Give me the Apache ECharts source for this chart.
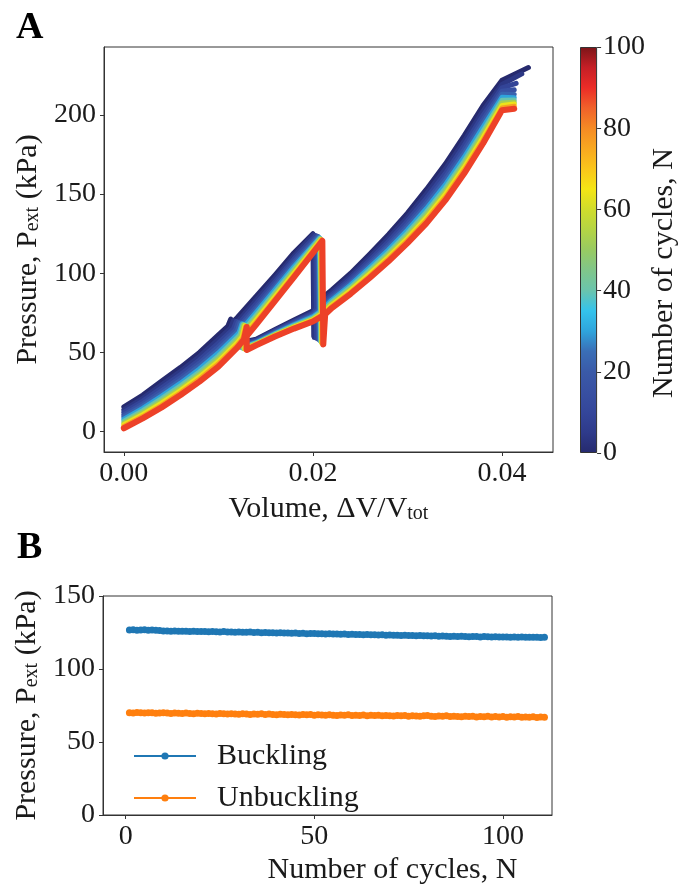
<!DOCTYPE html>
<html><head><meta charset="utf-8">
<script src="https://cdn.jsdelivr.net/npm/echarts@6/dist/echarts.min.js"></script>
<style>html,body{margin:0;padding:0;background:#fff}#c{width:680px;height:886px}</style>
</head><body><div id="c"></div>
<script>
// ---------------- Panel A data ----------------
const cycleIds = [0, 4, 9, 15, 22, 30, 40, 52, 64, 76, 88];
const xLoad = [0, 0.002, 0.004, 0.006, 0.008, 0.010, 0.012, 0.014, 0.016, 0.018];
const yLoad = [
  [15.5, 23, 31.8, 40.5, 50, 61, 72, 85.5, 99, 113],
  [13.6, 20.9, 29.5, 38.1, 47.4, 58.2, 69.3, 83.0, 96.7, 110.8],
  [12.0, 19.2, 27.5, 36.0, 45.2, 55.8, 67.1, 80.8, 94.7, 109.0],
  [10.5, 17.5, 25.7, 34.0, 43.2, 53.6, 65.0, 78.8, 92.9, 107.3],
  [9.2, 16.0, 24.0, 32.3, 41.3, 51.6, 63.1, 77.0, 91.3, 105.7],
  [7.8, 14.6, 22.3, 30.5, 39.5, 49.6, 61.2, 75.2, 89.6, 104.2],
  [6.5, 13.1, 20.7, 28.8, 37.6, 47.6, 59.3, 73.4, 88.0, 102.6],
  [5.2, 11.8, 19.2, 27.2, 35.9, 45.8, 57.6, 71.8, 86.5, 101.2],
  [4.2, 10.6, 17.9, 25.8, 34.5, 44.2, 56.0, 70.4, 85.1, 100.0],
  [3.1, 9.4, 16.5, 24.4, 33.0, 42.6, 54.5, 68.9, 83.8, 98.7],
  [2, 8.2, 15.2, 23, 31.5, 41, 53, 67.5, 82.5, 97.5]
];
const xPeak   = [0.0200, 0.02005, 0.0203, 0.0205, 0.0206, 0.0207, 0.02075, 0.0208, 0.02085, 0.0209, 0.0210];
const yPeak   = [125, 124.4, 123.8, 123.3, 122.9, 122.4, 122.0, 121.6, 121.2, 120.9, 120.5];
const xSnap   = [0.0201, 0.02015, 0.0204, 0.0206, 0.0207, 0.0208, 0.02085, 0.0209, 0.02095, 0.0210, 0.0211];
const ySnap   = [60, 59.3, 58.7, 58.2, 57.7, 57.2, 56.7, 56.2, 55.8, 55.4, 55];
const xRejoin = [0.0203, 0.02035, 0.0206, 0.0208, 0.0209, 0.0210, 0.02105, 0.0211, 0.02115, 0.0212, 0.0213];
const yRejoin = [81, 80.0, 79.2, 78.4, 77.7, 77.0, 76.3, 75.7, 75.1, 74.6, 74];
const xUpper = [0.022, 0.024, 0.026, 0.028, 0.030, 0.032, 0.034, 0.036, 0.038, 0.040];
const yUpper = [
  [89.5, 100, 112, 124.5, 138, 153, 169, 187, 206, 222],
  [87.9, 98.2, 109.9, 122.1, 135.3, 150.0, 165.8, 183.6, 202.6, 219.3],
  [86.5, 96.6, 108.1, 120.1, 133.1, 147.4, 163.0, 180.8, 199.8, 217.1],
  [85.2, 95.2, 106.5, 118.2, 131.0, 145.0, 160.5, 178.1, 197.1, 215.0],
  [84.1, 93.9, 105.0, 116.5, 129.1, 142.9, 158.2, 175.7, 194.7, 213.1],
  [83.0, 92.6, 103.5, 114.8, 127.2, 140.8, 155.9, 173.3, 192.3, 211.2],
  [81.8, 91.3, 102.0, 113.1, 125.3, 138.6, 153.6, 170.9, 189.9, 209.3],
  [80.8, 90.1, 100.6, 111.6, 123.6, 136.7, 151.5, 168.8, 187.8, 207.6],
  [79.8, 89.1, 99.4, 110.2, 122.0, 134.9, 149.7, 166.8, 185.8, 206.0],
  [78.9, 88.0, 98.2, 108.9, 120.5, 133.2, 147.8, 164.9, 183.9, 204.5],
  [78, 87, 97, 107.5, 119, 131.5, 146, 163, 182, 203]
];
const xEnd = [0.0428, 0.0421, 0.0415, 0.0413, 0.0413, 0.0413, 0.0413, 0.0413, 0.0413, 0.0413, 0.0413];
const yEnd = [230, 226, 220, 216, 213, 211, 209.5, 208, 207, 205.5, 204];
const xBranch = [0.020, 0.018, 0.016, 0.014];
const yBranch = [
  [76.3, 70.5, 64.5, 58.3],
  [75.3, 69.7, 63.9, 57.8],
  [74.5, 69.1, 63.3, 57.3],
  [73.8, 68.5, 62.8, 56.9],
  [73.1, 67.9, 62.4, 56.5],
  [72.4, 67.4, 61.9, 56.1],
  [71.7, 66.8, 61.5, 55.8],
  [71.1, 66.3, 61.1, 55.4],
  [70.6, 65.9, 60.7, 55.1],
  [70.0, 65.4, 60.4, 54.8],
  [69.5, 65, 60, 54.5]
];
const xUnb     = [0.0113, 0.0116, 0.0119, 0.0121, 0.0123, 0.0125, 0.0126, 0.0127, 0.0128, 0.0129, 0.0130];
const yUnbLow  = [55, 54.6, 54.2, 53.8, 53.4, 53.0, 52.7, 52.4, 52.1, 51.8, 51.5];
const yUnbHigh = [71, 70.2, 69.6, 69, 68.5, 68, 67.6, 67.2, 66.8, 66.4, 66];
const xSettle  = [0.0110, 0.0113, 0.0116, 0.0118, 0.0120, 0.0122, 0.0123, 0.0124, 0.0125, 0.0126, 0.0127];
const ySettle  = [66.5, 65.4, 64.8, 63.9, 63.1, 62.6, 61.4, 60.4, 59.6, 58.8, 58.1];

const ticksAx = [0, 0.02, 0.04];
const ticksAy = [0, 50, 100, 150, 200];
const colorbarTicks = [0, 20, 40, 60, 80, 100];

// ---------------- Panel B data ----------------
const cycleN = [1,2,3,4,5,6,7,8,9,10,11,12,13,14,15,16,17,18,19,20,21,22,23,24,25,26,27,28,29,30,
31,32,33,34,35,36,37,38,39,40,41,42,43,44,45,46,47,48,49,50,51,52,53,54,55,56,57,58,59,60,
61,62,63,64,65,66,67,68,69,70,71,72,73,74,75,76,77,78,79,80,81,82,83,84,85,86,87,88,89,90,
91,92,93,94,95,96,97,98,99,100,101,102,103,104,105,106,107,108,109,110,111];
const buckling = [126.7,126.8,126.6,126.7,126.8,126.6,126.7,126.5,126.3,126.1,
126.0,125.9,126.0,125.8,125.9,125.8,125.7,125.8,125.6,125.7,
125.6,125.5,125.7,125.5,125.4,125.6,125.3,125.4,125.2,125.3,
125.2,125.1,125.3,125.0,125.1,124.9,125.0,124.8,124.9,124.7,
124.8,124.6,124.7,124.5,124.6,124.4,124.5,124.2,124.4,124.3,
124.1,124.2,124.0,124.1,123.9,124.0,123.8,123.9,123.7,123.8,
123.6,123.7,123.5,123.6,123.4,123.5,123.3,123.4,123.2,123.3,
123.1,123.2,123.0,123.1,122.9,123.0,122.8,122.9,122.7,122.8,
122.6,122.7,122.5,122.6,122.4,122.3,122.5,122.2,122.4,122.3,
122.1,122.3,122.2,122.0,122.2,122.1,121.9,122.1,122.0,121.9,
122.0,121.8,121.9,121.8,121.9,121.7,121.8,121.7,121.8,121.6,121.7];
const unbuckling = [70.1,69.9,70.2,70.0,69.8,70.1,70.0,69.7,69.9,70.0,
69.8,69.6,69.9,69.7,69.5,69.8,69.6,69.4,69.7,69.5,
69.3,69.6,69.4,69.2,69.5,69.3,69.1,69.4,69.2,69.0,
69.3,69.1,68.9,69.2,69.0,69.3,68.8,69.1,68.9,68.7,
69.0,68.8,68.6,68.9,68.7,68.5,68.8,68.6,68.9,68.4,
68.7,68.5,68.3,68.6,68.4,68.2,68.5,68.3,68.6,68.1,
68.4,68.2,68.5,68.0,68.3,68.1,68.4,67.9,68.2,68.0,
67.8,68.1,67.9,68.2,67.7,68.0,67.8,67.6,67.9,68.1,
67.7,67.5,67.8,67.6,67.9,67.4,67.7,67.5,67.3,67.6,
67.4,67.7,67.2,67.5,67.3,67.6,67.1,67.4,67.2,67.5,
67.0,67.3,67.1,67.4,66.9,67.2,67.0,67.3,66.8,67.1,66.9];
const ticksBx = [0, 50, 100];
const ticksBy = [0, 50, 100, 150];

// ---------------- styling ----------------
const FONT = 'Liberation Serif';
const TXT = '#1a1a1a';
const AX = '#333333';
const cmap = ['#262a6e','#2e3a8a','#34469a','#3850a2','#3a5aa8','#3a6eb6','#2fa4dc','#34c3ec','#6ac4ad','#80c68a',
  '#98ca62','#b4d444','#d0dc2c','#f4e515','#fac61b','#f8a820','#f58a24','#f0612a','#eb2c27','#c51f26','#7b1518'];
function hex2rgb(h){return [parseInt(h.slice(1,3),16),parseInt(h.slice(3,5),16),parseInt(h.slice(5,7),16)];}
function cmapColor(v){
  const t = Math.max(0, Math.min(1, v/100)) * (cmap.length - 1);
  const i = Math.min(cmap.length - 2, Math.floor(t)), f = t - i;
  const a = hex2rgb(cmap[i]), b = hex2rgb(cmap[i+1]);
  return 'rgb(' + a.map((c,k)=>Math.round(c + (b[k]-c)*f)).join(',') + ')';
}

const seriesA = cycleIds.map((c, i) => {
  const pts = [];
  xLoad.forEach((x, k) => { if (x < xPeak[i]) pts.push([x, yLoad[i][k]]); });
  pts.push([xPeak[i], yPeak[i]]);
  pts.push([xSnap[i], ySnap[i]]);
  pts.push([xRejoin[i], yRejoin[i]]);
  xUpper.forEach((x, k) => pts.push([x, yUpper[i][k]]));
  pts.push([xEnd[i], yEnd[i]]);
  for (let k = xUpper.length - 1; k >= 0; k--) pts.push([xUpper[k], yUpper[i][k]]);
  pts.push([xRejoin[i], yRejoin[i]]);
  xBranch.forEach((x, k) => pts.push([x, yBranch[i][k]]));
  pts.push([xUnb[i], yUnbLow[i]]);
  pts.push([xUnb[i], yUnbHigh[i]]);
  pts.push([xSettle[i], ySettle[i]]);
  const last = i === cycleIds.length - 1;
  return {
    type: 'line', xAxisIndex: 0, yAxisIndex: 0, data: pts, symbol: 'none', showSymbol: false,
    lineStyle: { width: last ? 6 : 5, color: cmapColor(c), join: 'round', cap: 'round' },
    z: 2 + i, silent: true, animation: false
  };
});

const lab = (size) => ({ fontFamily: FONT, fontSize: size, color: TXT });
const richSub = {
  m: { fontFamily: FONT, fontSize: 30, color: TXT, lineHeight: 34, verticalAlign: 'bottom' },
  s: { fontFamily: FONT, fontSize: 20, color: TXT, lineHeight: 16, verticalAlign: 'bottom' }
};

const option = {
  backgroundColor: '#fff',
  animation: false,
  title: [
    { text: 'A', left: 11, top: 4, textStyle: { fontFamily: FONT, fontSize: 38, fontWeight: 'bold', color: '#000' } },
    { text: 'B', left: 12, top: 524, textStyle: { fontFamily: FONT, fontSize: 38, fontWeight: 'bold', color: '#000' } }
  ],
  grid: [
    { left: 104, top: 47, width: 449, height: 405, show: true, borderColor: AX, borderWidth: 1, backgroundColor: 'transparent' },
    { left: 103, top: 596, width: 449, height: 224, show: true, borderColor: AX, borderWidth: 1, backgroundColor: 'transparent' },
    { left: 580, top: 47, width: 21, height: 406 }
  ],
  xAxis: [
    { gridIndex: 0, type: 'value', min: -0.0021, max: 0.0454,
      axisLine: { show: true, onZero: false, lineStyle: { color: AX } },
      axisTick: { show: true, length: 4, customValues: ticksAx, lineStyle: { color: AX } },
      axisLabel: { customValues: ticksAx, formatter: v => v.toFixed(2), margin: 8, ...lab(28) },
      splitLine: { show: false },
      name: '{m|Volume, ΔV/V}{s|tot}', nameLocation: 'middle', nameGap: 38,
      nameTextStyle: { rich: richSub } },
    { gridIndex: 1, type: 'value', min: -6, max: 113,
      axisLine: { show: true, onZero: false, lineStyle: { color: AX } },
      axisTick: { show: true, length: 4, customValues: ticksBx, lineStyle: { color: AX } },
      axisLabel: { customValues: ticksBx, margin: 8, ...lab(28) },
      splitLine: { show: false },
      name: 'Number of cycles, N', nameLocation: 'middle', nameGap: 40,
      nameTextStyle: { ...lab(30), padding: [0, 0, 0, 130] } },
    { gridIndex: 2, type: 'category', data: ['cb'], show: false }
  ],
  yAxis: [
    { gridIndex: 0, type: 'value', min: -13, max: 243,
      axisLine: { show: true, onZero: false, lineStyle: { color: AX } },
      axisTick: { show: true, length: 4, customValues: ticksAy, lineStyle: { color: AX } },
      axisLabel: { customValues: ticksAy, margin: 8, ...lab(28) },
      splitLine: { show: false },
      name: '{m|Pressure, P}{s|ext}{m| (kPa)}', nameLocation: 'middle', nameGap: 58, nameRotate: 90,
      nameTextStyle: { rich: richSub } },
    { gridIndex: 1, type: 'value', min: 0, max: 150, interval: 50,
      axisLine: { show: true, onZero: false, lineStyle: { color: AX } },
      axisTick: { show: true, length: 4, customValues: ticksBy, lineStyle: { color: AX } },
      axisLabel: { customValues: ticksBy, margin: 8, ...lab(28) },
      splitLine: { show: false },
      name: '{m|Pressure, P}{s|ext}{m| (kPa)}', nameLocation: 'middle', nameGap: 56, nameRotate: 90,
      nameTextStyle: { rich: richSub } },
    { gridIndex: 2, type: 'value', min: 0, max: 100, interval: 20, position: 'right',
      axisLine: { show: false },
      axisTick: { show: true, length: 4, lineStyle: { color: AX } },
      axisLabel: { margin: 6, ...lab(28) },
      splitLine: { show: false },
      name: 'Number of cycles, N', nameLocation: 'middle', nameGap: 46, nameRotate: 90,
      nameTextStyle: { ...lab(30), padding: [0, 46, 0, 0] } }
  ],
  legend: {
    orient: 'vertical', left: 128, top: 736, itemGap: 12, itemWidth: 62, itemHeight: 9,
    textStyle: { ...lab(30), padding: [0, 0, 0, 16] },
    data: ['Buckling', 'Unbuckling']
  },
  series: [
    ...seriesA,
    { type: 'bar', xAxisIndex: 2, yAxisIndex: 2, data: [colorbarTicks[colorbarTicks.length - 1]], barWidth: '100%',
      silent: true,
      itemStyle: { borderColor: AX, borderWidth: 1,
        color: new echarts.graphic.LinearGradient(0, 1, 0, 0, cmap.map((c, k) => ({ offset: k / (cmap.length - 1), color: c }))) } },
    { type: 'line', name: 'Buckling', xAxisIndex: 1, yAxisIndex: 1,
      data: cycleN.map((n, k) => [n, buckling[k]]),
      symbol: 'circle', symbolSize: 7, showSymbol: true,
      lineStyle: { width: 1.5, color: '#1f77b4' }, itemStyle: { color: '#1f77b4' } },
    { type: 'line', name: 'Unbuckling', xAxisIndex: 1, yAxisIndex: 1,
      data: cycleN.map((n, k) => [n, unbuckling[k]]),
      symbol: 'circle', symbolSize: 7, showSymbol: true,
      lineStyle: { width: 1.5, color: '#ff7f0e' }, itemStyle: { color: '#ff7f0e' } }
  ]
};
const chart = echarts.init(document.getElementById('c'), null, { renderer: 'canvas' });
chart.setOption(option);
</script>
</body></html>
